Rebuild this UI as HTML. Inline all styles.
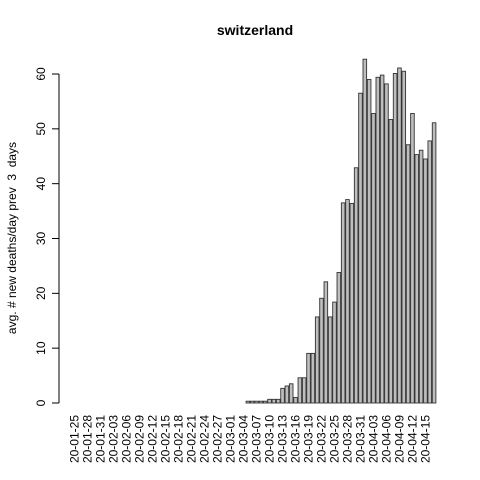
<!DOCTYPE html>
<html><head><meta charset="utf-8"><style>
html,body{margin:0;padding:0;background:#fff;}
svg{display:block;font-family:"Liberation Sans",Arial,sans-serif;}
</style></head><body>
<svg id="chart" width="480" height="480" viewBox="0 0 480 480">
<text x="255" y="35" text-anchor="middle" font-size="14" font-weight="bold">switzerland</text>
<text transform="translate(16,238) rotate(-90)" text-anchor="middle" font-size="12" style="white-space:pre" xml:space="preserve">avg. # new deaths/day prev  3  days</text>
<g id="yaxis"></g>
<g id="bars"></g>
<g id="xlabels"></g>
</svg>
<script>
const zeroCount = 40;
const nonzeroValues = [0.33,0.33,0.33,0.33,0.33,0.67,0.67,0.67,2.67,3.1,3.5,1.0,4.6,4.6,9.05,9.05,15.7,19.1,22.1,15.7,18.4,23.8,36.5,37.1,36.4,42.9,56.5,62.7,59.0,52.8,59.4,59.8,58.2,51.7,60.1,61.1,60.5,47.1,52.8,45.3,46.1,44.5,47.8,51.1];
const values = new Array(zeroCount).fill(0).concat(nonzeroValues);
const xTickLabels = ["20-01-25","20-01-28","20-01-31","20-02-03","20-02-06","20-02-09","20-02-12","20-02-15","20-02-18","20-02-21","20-02-24","20-02-27","20-03-01","20-03-04","20-03-07","20-03-10","20-03-13","20-03-16","20-03-19","20-03-22","20-03-25","20-03-28","20-03-31","20-04-03","20-04-06","20-04-09","20-04-12","20-04-15"];
const yTicks = [0,10,20,30,40,50,60];

const NS = "http://www.w3.org/2000/svg";
const step = 4.33, bw = 3.61, x0 = 74.7;
function xc(i){ return x0 + step*i; }
function y(v){ return 403 - v*(329/60); }

const yg = document.getElementById('yaxis');
const axl = document.createElementNS(NS,'line');


axl.setAttribute('x1',59);axl.setAttribute('x2',59);
axl.setAttribute('y1',y(yTicks[0]));axl.setAttribute('y2',y(yTicks[yTicks.length-1]));
axl.setAttribute('stroke','#000');
yg.appendChild(axl);
yTicks.forEach(t=>{
  const l=document.createElementNS(NS,'line');
  
  
  l.setAttribute('x1',52);l.setAttribute('x2',59);l.setAttribute('y1',y(t));l.setAttribute('y2',y(t));
  l.setAttribute('stroke','#000');
  yg.appendChild(l);
  const tx=document.createElementNS(NS,'text');
  
  
  tx.setAttribute('transform','translate(45,'+y(t)+') rotate(-90)');
  tx.setAttribute('text-anchor','middle');
  tx.setAttribute('font-size','12');
  tx.textContent=t;
  yg.appendChild(tx);
});

const bg=document.getElementById('bars');
values.forEach((v,i)=>{
  const r=document.createElementNS(NS,'rect');
  
  
  r.setAttribute('x',xc(i)-bw/2);
  r.setAttribute('width',bw);
  r.setAttribute('y',y(v));
  r.setAttribute('height',Math.max(0,y(0)-y(v)));
  r.setAttribute('fill','#bebebe');
  r.setAttribute('stroke','#333');
  r.setAttribute('stroke-width','0.9');
  bg.appendChild(r);
});

const xg=document.getElementById('xlabels');
xTickLabels.forEach((s,k)=>{
  const tx=document.createElementNS(NS,'text');
  
  
  const xx=xc(k*3)+4;
  tx.setAttribute('transform','translate('+xx+',415) rotate(-90)');
  tx.setAttribute('text-anchor','end');
  tx.setAttribute('font-size','12');
  tx.textContent=s;
  xg.appendChild(tx);
});
</script>
</body></html>
